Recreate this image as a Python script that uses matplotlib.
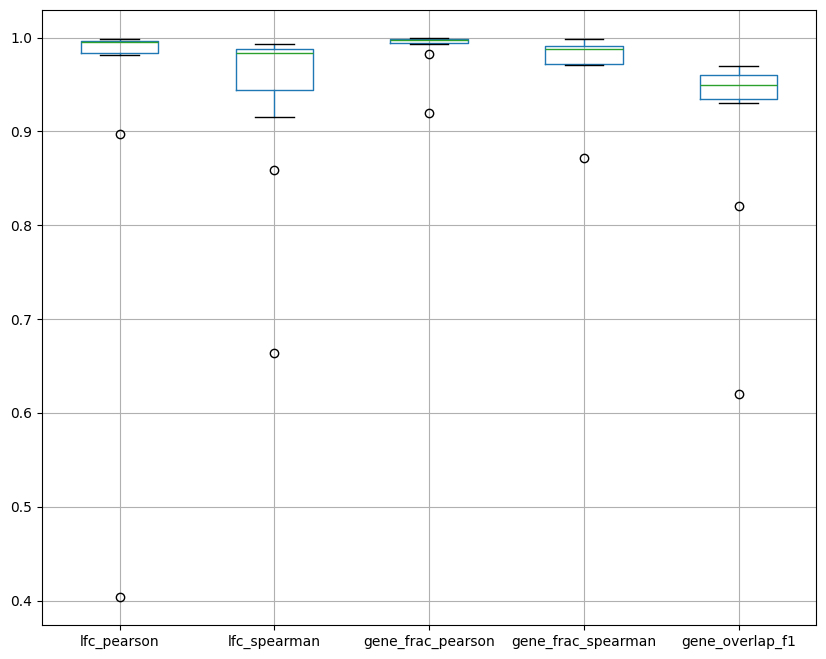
import matplotlib
matplotlib.use('Agg')
import matplotlib.pyplot as plt

labels = ['lfc_pearson', 'lfc_spearman', 'gene_frac_pearson', 'gene_frac_spearman', 'gene_overlap_f1']
whislo = [0.9816, 0.9156, 0.9933, 0.9710, 0.9298]
q1 = [0.9840, 0.9444, 0.9944, 0.9716, 0.9348]
med = [0.9957, 0.9837, 0.9975, 0.9876, 0.9497]
q3 = [0.9962, 0.9880, 0.9980, 0.9910, 0.9603]
whishi = [0.9986, 0.9933, 0.9997, 0.9986, 0.9700]
fliers = [[0.897, 0.404], [0.8585, 0.6638], [0.9827, 0.920], [0.872], [0.820, 0.6197]]

stats = []
for i in range(len(labels)):
    stats.append({'label': labels[i], 'whislo': whislo[i], 'q1': q1[i], 'med': med[i],
                  'q3': q3[i], 'whishi': whishi[i], 'fliers': fliers[i]})

fig, ax = plt.subplots(figsize=(8.26, 6.59), dpi=100)
fig.subplots_adjust(left=0.051, right=0.988, top=0.985, bottom=0.052)

ax.bxp(stats,
       boxprops=dict(color='C0'),
       whiskerprops=dict(color='C0'),
       medianprops=dict(color='C2'),
       capprops=dict(color='k'))
ax.grid(True)

fig.savefig('out.png', dpi=100)
